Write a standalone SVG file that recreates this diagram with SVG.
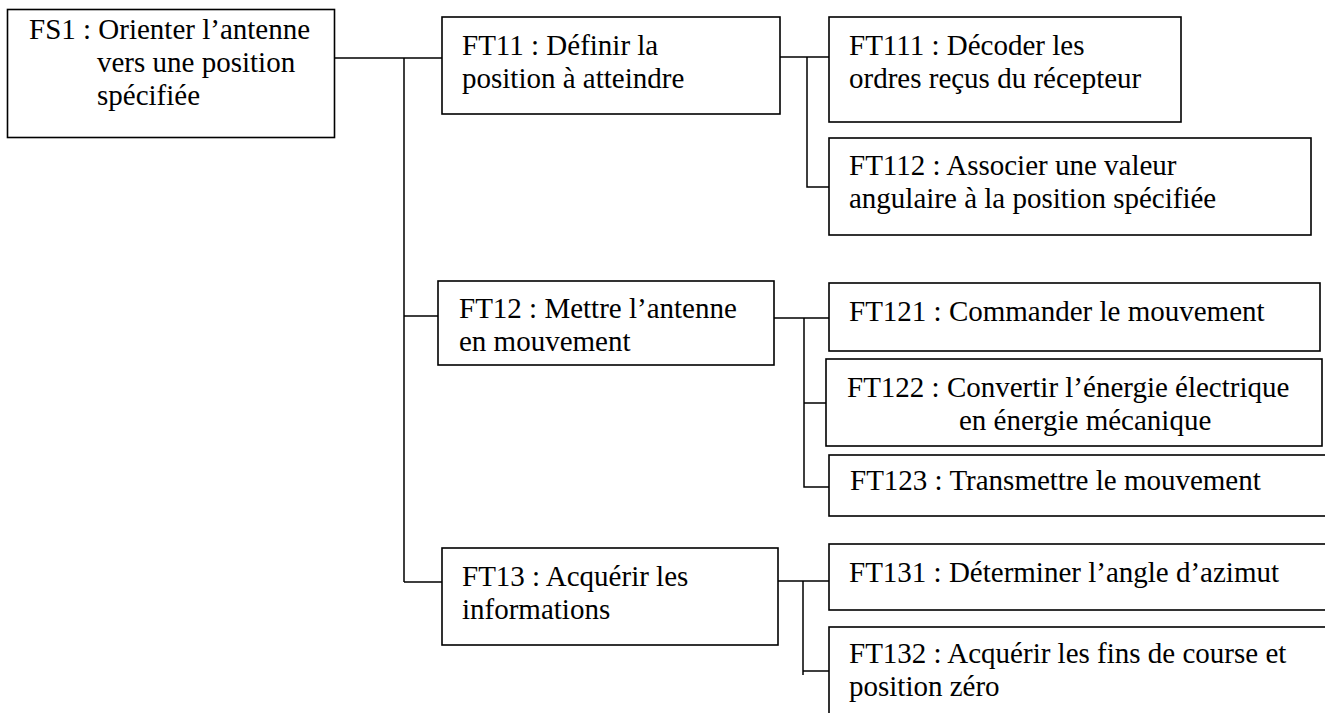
<svg xmlns="http://www.w3.org/2000/svg" width="1325" height="713" viewBox="0 0 1325 713">
<style>
.box{fill:#fff;stroke:#000;stroke-width:1.6}
.t{font-family:"Liberation Serif","Times New Roman",serif;font-size:29px;fill:#000}
.c{fill:none;stroke:#000;stroke-width:1.5}
</style>
<rect width="1325" height="713" fill="#fff"/>
<g id="connectors">
<path class="c" d="M334,58H442M404,58V582M404,316H438M404,582H442"/>
<path class="c" d="M780,57H829M807,57V187H829"/>
<path class="c" d="M774,318H829M804,318V487H829M804,403H829"/>
<path class="c" d="M778,581H829M803,581V675M803,671H829"/>
</g>
<g id="FS1"><rect class="box" x="7.5" y="9.5" width="327" height="128"/>
<text class="t" x="29" y="39">FS1 : Orienter l’antenne</text>
<text class="t" x="97" y="72">vers une position</text>
<text class="t" x="97" y="105">spécifiée</text></g>
<g id="FT11"><rect class="box" x="442" y="17" width="338" height="97"/>
<text class="t" x="462" y="55">FT11 : Définir la</text>
<text class="t" x="462" y="88">position à atteindre</text></g>
<g id="FT12"><rect class="box" x="438" y="281" width="336" height="84"/>
<text class="t" x="459" y="318">FT12 : Mettre l’antenne</text>
<text class="t" x="459" y="351">en mouvement</text></g>
<g id="FT13"><rect class="box" x="442" y="548" width="336" height="97"/>
<text class="t" x="462" y="586">FT13 : Acquérir les</text>
<text class="t" x="462" y="619">informations</text></g>
<g id="FT111"><rect class="box" x="829" y="17" width="352" height="105"/>
<text class="t" x="849" y="55">FT111 : Décoder les</text>
<text class="t" x="849" y="88">ordres reçus du récepteur</text></g>
<g id="FT112"><rect class="box" x="829" y="138" width="482" height="97"/>
<text class="t" x="849" y="175">FT112 : Associer une valeur</text>
<text class="t" x="849" y="208">angulaire à la position spécifiée</text></g>
<g id="FT121"><rect class="box" x="829" y="283" width="491" height="68"/>
<text class="t" x="849" y="321">FT121 : Commander le mouvement</text></g>
<g id="FT122"><rect class="box" x="826" y="359" width="496" height="87"/>
<text class="t" x="847" y="397">FT122 : Convertir l’énergie électrique</text>
<text class="t" x="959" y="430">en énergie mécanique</text></g>
<g id="FT123"><rect class="box" x="829" y="455" width="510" height="61"/>
<text class="t" x="850" y="490">FT123 : Transmettre le mouvement</text></g>
<g id="FT131"><rect class="box" x="829" y="544" width="510" height="66"/>
<text class="t" x="849" y="582">FT131 : Déterminer l’angle d’azimut</text></g>
<g id="FT132"><rect class="box" x="829" y="627" width="510" height="100"/>
<text class="t" x="849" y="663">FT132 : Acquérir les fins de course et</text>
<text class="t" x="849" y="696">position zéro</text></g>
</svg>
